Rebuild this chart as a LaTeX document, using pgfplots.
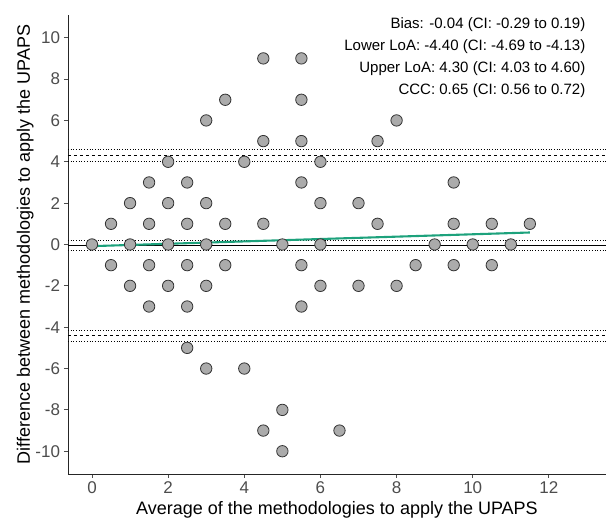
\documentclass[border=0pt]{standalone}
\usepackage{fontspec}
\setmainfont{Liberation Sans}
\usepackage{pgfplots}
\pgfplotsset{compat=1.18}
\definecolor{ptfill}{HTML}{ABABAB}
\definecolor{ptedge}{HTML}{333333}
\definecolor{fitgreen}{HTML}{1DA27C}
\definecolor{ticktext}{HTML}{4D4D4D}

\begin{document}
\begin{tikzpicture}
\useasboundingbox (-68pt,-44pt) rectangle (538pt,474pt);
\begin{axis}[
    at={(0,0)}, anchor=south west,
    scale only axis,
    width=538pt, height=459pt,
    xmin=-0.63, xmax=13.5,
    ymin=-11.1, ymax=11.1,
    axis x line*=bottom, axis y line*=left,
    axis line style={-, draw=black!85, line width=0.9pt},
    xtick={0,2,...,12}, ytick={-10,-8,...,10},
    minor tick num=0,
    tick align=outside, major tick length=4pt,
    tick style={draw=ticktext, line width=0.8pt},
    ticklabel style={font=\fontsize{17}{17}\selectfont, text=ticktext},
    /pgf/number format/assume math mode=true,
    xticklabel style={yshift=-0.5pt},
    yticklabel style={xshift=-0.5pt},
    xlabel={Average of the methodologies to apply the UPAPS},
    ylabel={Difference between methodologies to apply the UPAPS},
    label style={font=\fontsize{18}{18}\selectfont},
    xlabel style={at={(axis description cs:0.5,0)}, anchor=base, yshift=-40.5pt},
    ylabel style={yshift=-5pt},
    clip=false,
]
% limits of agreement and bias, with their CIs
\addplot[black, dotted, line width=0.7pt] coordinates {(-0.63,4.60) (13.5,4.60)};
\addplot[black, dashed, line width=0.9pt] coordinates {(-0.63,4.30) (13.5,4.30)};
\addplot[black, dotted, line width=0.7pt] coordinates {(-0.63,4.03) (13.5,4.03)};
\addplot[black, dotted, line width=0.7pt] coordinates {(-0.63,0.19) (13.5,0.19)};
\addplot[black, solid, line width=0.9pt] coordinates {(-0.63,-0.04) (13.5,-0.04)};
\addplot[black, dotted, line width=0.7pt] coordinates {(-0.63,-0.29) (13.5,-0.29)};
\addplot[black, dotted, line width=0.7pt] coordinates {(-0.63,-4.13) (13.5,-4.13)};
\addplot[black, dashed, line width=0.9pt] coordinates {(-0.63,-4.40) (13.5,-4.40)};
\addplot[black, dotted, line width=0.7pt] coordinates {(-0.63,-4.69) (13.5,-4.69)};
% trend line
\addplot[fitgreen, line width=2.1pt] coordinates {(0,-0.08) (11.5,0.58)};
% observations
\addplot[only marks, mark=*, mark size=5.7pt,
    mark options={fill=ptfill, draw=ptedge, line width=0.8pt}] coordinates {
(0,0)
(0.5,1) (0.5,-1)
(1,2) (1,0) (1,-2)
(1.5,3) (1.5,1) (1.5,-1) (1.5,-3)
(2,4) (2,2) (2,0) (2,-2)
(2.5,3) (2.5,1) (2.5,-1) (2.5,-3) (2.5,-5)
(3,6) (3,2) (3,0) (3,-2) (3,-6)
(3.5,7) (3.5,1) (3.5,-1)
(4,4) (4,-6)
(4.5,9) (4.5,5) (4.5,1) (4.5,-9)
(5,0) (5,-8) (5,-10)
(5.5,9) (5.5,7) (5.5,5) (5.5,3) (5.5,-1) (5.5,-3)
(6,4) (6,2) (6,0) (6,-2)
(6.5,-9)
(7,2) (7,-2)
(7.5,5) (7.5,1)
(8,6) (8,-2)
(8.5,-1)
(9,0)
(9.5,3) (9.5,1) (9.5,-1)
(10,0)
(10.5,1) (10.5,-1)
(11,0)
(11.5,1)
};
\begin{scope}[font=\fontsize{15}{15}\selectfont]
\node[anchor=east] at (axis cs:13.05,10.62) {Bias: -0.04 (CI: -0.29 to 0.19)};
\node[anchor=east] at (axis cs:13.05,9.56) {Lower LoA: -4.40 (CI: -4.69 to -4.13)};
\node[anchor=east] at (axis cs:13.05,8.50) {Upper LoA: 4.30 (CI: 4.03 to 4.60)};
\node[anchor=east] at (axis cs:13.05,7.44) {CCC: 0.65 (CI: 0.56 to 0.72)};
\end{scope}
\end{axis}
\end{tikzpicture}
\end{document}
